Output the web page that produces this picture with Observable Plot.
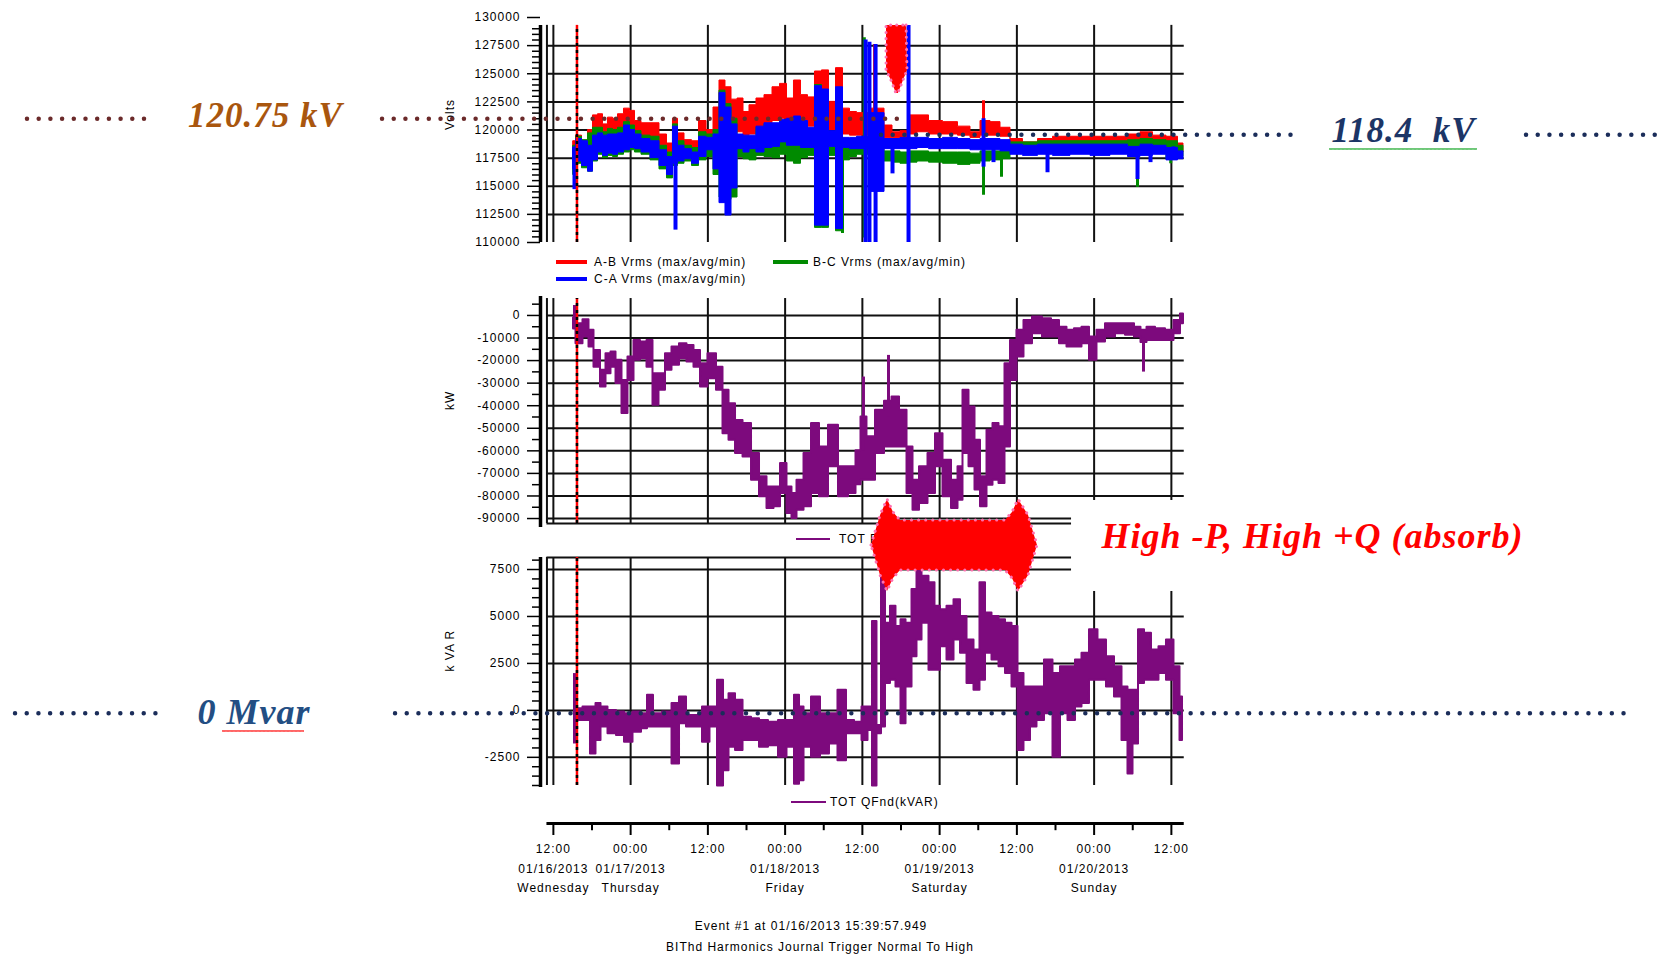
<!DOCTYPE html>
<html>
<head>
<meta charset="utf-8">
<script src="https://cdn.jsdelivr.net/npm/d3@7"></script>
<script src="https://cdn.jsdelivr.net/npm/@observablehq/plot@0.6"></script>
<style>
  body { margin: 0; background: #fff; }
  #chart { position: relative; width: 1665px; height: 956px; overflow: hidden; background: #fff;
           font-family: "Liberation Sans", Arial, sans-serif; }
  #chart > svg { position: absolute; left: 0; top: 0; }
  .lg { position: absolute; font-size: 12px; letter-spacing: 1px; line-height: 14px; color: #000; white-space: pre; }
  .sw { position: absolute; }
  .cap { position: absolute; font-size: 12px; letter-spacing: 1px; line-height: 14px; text-align: center; white-space: pre; }
  .wavy { position: absolute; height: 4px; background-repeat: repeat-x; }
  g[aria-label^="anno"] text { letter-spacing: 0; }
</style>
</head>
<body>
<div id="chart"></div>
<script>
// ---------------- DATA (hours counted from 01/16/2013 00:00) ----------------
const T0 = Date.UTC(2013, 0, 16);
const t = h => new Date(T0 + h * 3600e3);

// time axis
const majorTickHours = [12, 24, 36, 48, 60, 72, 84, 96, 108];
const majorTickTime  = ["12:00", "00:00", "12:00", "00:00", "12:00", "00:00", "12:00", "00:00", "12:00"];
const majorTickDate  = ["01/16/2013", "01/17/2013", "", "01/18/2013", "", "01/19/2013", "", "01/20/2013", ""];
const majorTickDay   = ["Wednesday", "Thursday", "", "Friday", "", "Saturday", "", "Sunday", ""];
const minorTickHours = [18, 30, 42, 54, 66, 78, 90, 102];
const eventHour = 15 + 39 / 60 + 58 / 3600;       // Event #1 at 15:39:57.949
const axisStartHour = 10, frameStartHour = 11, frameEndHour = 110;

// Volts panel: [hour, min kV, max kV]
const voltsAB = [[15.13,118.0,119.0],[15.90,118.5,119.5],[16.99,118.3,119.0],[17.77,118.8,120.0],[18.54,119.5,121.3],[19.32,119.6,121.4],[20.10,119.3,120.5],[20.87,119.5,121.1],[21.65,119.4,121.0],[22.43,119.6,121.4],[23.51,120.2,121.9],[24.29,120.0,121.7],[25.07,119.5,120.8],[26.31,119.2,120.6],[27.86,119.0,120.6],[29.11,118.2,119.6],[30.19,117.6,118.8],[30.97,119.0,121.0],[31.75,118.5,119.7],[32.99,118.2,119.1],[34.08,118.0,119.0],[35.17,119.2,120.8],[36.41,119.2,120.0],[37.34,119.5,122.0],[38.27,122.0,124.4],[39.20,121.5,123.8],[40.14,120.5,122.7],[41.07,119.8,122.8],[42.00,119.5,121.6],[42.93,119.6,122.2],[44.17,120.2,122.8],[45.42,120.6,123.1],[46.66,120.8,123.8],[47.75,121.0,124.1],[48.83,120.8,122.8],[49.92,121.0,124.4],[51.01,120.8,123.1],[52.10,120.3,122.9],[53.18,122.5,125.2],[54.27,122.5,125.3],[55.36,120.0,122.5],[56.45,122.5,125.5],[57.53,119.6,121.9],[58.62,119.5,121.6],[59.71,119.5,121.5],[62.82,119.8,121.9],[64.06,119.3,120.4],[65.30,119.3,119.8],[66.54,119.3,119.9],[67.79,119.6,121.3],[69.34,119.8,121.3],[71.36,119.6,120.8],[73.69,119.6,120.7],[76.02,119.5,120.3],[77.57,119.3,119.8],[79.13,119.5,120.8],[80.68,119.5,120.7],[82.23,119.4,120.2],[83.79,118.6,119.2],[86.12,118.5,118.9],[88.45,118.6,119.2],[90.78,118.7,119.4],[93.88,118.7,119.4],[96.99,118.7,119.4],[100.10,118.7,119.4],[102.43,118.8,119.6],[103.98,118.9,119.8],[106.31,118.8,119.5],[108.17,118.6,119.4],[109.88,118.0,118.8]];
const voltsBC = [[15.13,116.0,118.6],[15.90,117.0,119.4],[16.99,116.6,119.1],[17.77,116.3,119.7],[18.54,117.2,120.2],[19.32,117.8,120.2],[20.10,117.5,119.8],[20.87,117.7,120.1],[21.65,117.6,120.0],[22.43,117.8,120.2],[23.51,118.0,120.7],[24.29,118.2,120.4],[25.07,118.0,119.9],[26.31,117.8,119.5],[27.86,117.3,119.4],[29.11,116.5,118.6],[30.19,115.7,118.0],[30.97,116.8,120.5],[31.75,117.0,119.0],[32.99,117.2,118.6],[34.08,116.8,118.4],[35.17,117.3,119.8],[36.41,117.6,119.6],[37.34,116.0,120.0],[38.27,114.0,123.5],[39.20,113.8,122.3],[40.14,114.0,121.0],[41.07,117.6,119.5],[42.00,117.4,119.4],[42.93,117.3,119.4],[44.17,117.7,120.2],[45.42,117.6,120.5],[46.66,117.5,120.5],[47.75,117.8,120.8],[48.83,117.2,120.9],[49.92,117.0,121.1],[51.01,117.5,120.7],[52.10,117.7,120.1],[53.18,111.3,124.0],[54.27,111.3,123.5],[55.36,117.7,119.8],[56.45,111.0,123.5],[57.53,117.3,119.2],[58.62,117.6,119.2],[59.71,117.8,119.3],[62.82,117.5,119.2],[64.06,117.2,118.1],[65.30,117.1,118.1],[66.54,117.0,118.0],[67.79,117.1,118.1],[69.34,117.2,118.1],[71.36,117.1,118.0],[73.69,117.0,118.0],[76.02,116.9,118.0],[77.57,117.0,117.9],[79.13,117.2,118.1],[80.68,117.3,118.1],[82.23,117.4,118.1],[83.79,117.9,118.9],[86.12,117.9,118.9],[88.45,118.0,119.0],[90.78,118.0,119.0],[93.88,118.0,119.0],[96.99,118.0,119.0],[100.10,118.0,119.0],[102.43,117.8,119.1],[103.98,118.0,119.2],[106.31,118.0,119.1],[108.17,117.5,119.0],[109.88,117.6,118.6]];
const voltsCA = [[15.13,116.5,118.4],[15.90,117.2,119.2],[16.99,116.8,119.0],[17.77,116.3,118.6],[18.54,117.3,119.5],[19.32,118.0,119.7],[20.10,117.7,119.5],[20.87,117.9,119.6],[21.65,117.8,119.6],[22.43,118.0,119.7],[23.51,118.2,120.4],[24.29,118.4,120.0],[25.07,118.3,119.6],[26.31,118.0,119.2],[27.86,117.5,119.0],[29.11,116.8,118.2],[30.19,116.0,117.6],[30.97,117.0,120.3],[31.75,117.2,118.6],[32.99,117.4,118.3],[34.08,117.0,118.0],[35.17,117.6,119.4],[36.41,118.2,119.3],[37.34,116.5,119.6],[38.27,113.5,123.3],[39.20,112.4,122.0],[40.14,114.8,120.5],[41.07,118.3,119.6],[42.00,118.0,119.5],[42.93,118.3,119.5],[44.17,118.0,120.3],[45.42,118.4,120.6],[46.66,118.5,120.6],[47.75,118.9,120.9],[48.83,118.6,121.0],[49.92,118.6,121.2],[51.01,118.4,120.8],[52.10,118.4,120.2],[53.18,111.5,123.9],[54.27,111.5,123.6],[55.36,118.5,119.9],[56.45,111.2,123.8],[57.53,118.4,119.3],[58.62,118.3,119.3],[59.71,118.3,119.4],[62.82,114.5,121.5],[64.06,118.3,119.2],[65.30,118.3,119.2],[66.54,118.3,119.3],[67.79,118.3,119.3],[69.34,118.4,119.3],[71.36,118.3,119.2],[73.69,118.3,119.3],[76.02,118.3,119.2],[77.57,118.2,119.1],[79.13,118.2,119.2],[80.68,118.2,119.2],[82.23,118.1,119.1],[83.79,117.8,118.7],[86.12,117.7,118.6],[88.45,117.8,118.7],[90.78,117.7,118.7],[93.88,117.8,118.7],[96.99,117.7,118.7],[100.10,117.8,118.7],[102.43,117.6,118.5],[103.98,117.7,118.7],[106.31,117.8,118.6],[108.17,117.3,118.4],[109.88,117.4,118.1]];
// short excursions: [phase, hour, min kV, max kV]
const voltSpikes = [["CA",15.28,114.7,118.5],["CA",30.97,111.1,119.5],["BC",56.91,110.8,118.0],["BC",60.30,110.4,128.2],["CA",60.50,110.0,128.0],["CA",61.10,110.0,127.8],["AB",61.90,119.0,127.6],["CA",62.05,110.0,127.6],["CA",64.68,116.1,119.0],["CA",67.17,110.0,129.3],["AB",78.82,119.5,122.6],["BC",78.82,114.2,118.0],["CA",78.82,116.7,121.0],["CA",80.37,117.1,118.8],["BC",81.61,115.8,118.0],["CA",88.76,116.2,118.5],["BC",102.74,114.9,118.5],["CA",102.74,115.6,118.4],["CA",104.76,117.1,118.5],["BC",107.90,117.0,118.5],["CA",108.33,117.3,118.5]];

// kW panel: [hour, min, max] in thousands of kW
const kwTOT = [[15.13,-6,-1],[15.90,-12.5,-3.7],[17.30,-9.6,-1.9],[17.77,-14.0,-6.6],[18.85,-22.9,-15.5],[19.79,-31.7,-24.3],[20.56,-25.8,-17.0],[21.34,-22.9,-16.2],[22.12,-30.2,-19.9],[23.20,-43.5,-28.8],[23.98,-28.8,-18.4],[25.07,-19.9,-11.1],[26.00,-19.2,-11.8],[27.09,-22.9,-11.1],[27.86,-39.8,-25.8],[28.95,-33.2,-25.8],[29.88,-24.3,-17.0],[30.97,-22.1,-14.0],[32.21,-19.2,-12.5],[33.30,-20.6,-13.3],[34.39,-22.9,-15.5],[35.32,-31.7,-21.4],[36.72,-28.0,-17.0],[37.96,-33.2,-22.9],[38.74,-52.4,-33.2],[39.83,-55.3,-39.1],[40.76,-61.2,-46.5],[42.16,-62.7,-47.9],[43.40,-73.0,-61.2],[44.64,-80.4,-71.5],[45.73,-85.5,-76.0],[46.82,-84.8,-76.0],[47.75,-78.9,-65.6],[48.83,-87.8,-76.0],[49.30,-90.0,-78.9],[50.39,-86.3,-73.0],[51.48,-84.8,-61.2],[52.72,-78.9,-47.9],[53.96,-80.4,-58.3],[55.51,-67.1,-48.7],[57.07,-80.4,-67.1],[58.62,-78.9,-67.1],[59.40,-75.0,-60.0],[60.17,-73.0,-45.0],[61.26,-73.0,-53.8],[62.82,-61.2,-42.0],[64.06,-58.3,-38.0],[65.15,-58.3,-36.1],[66.39,-58.3,-42.0],[67.48,-78.9,-58.3],[68.25,-86.3,-73.0],[69.50,-83.3,-67.1],[70.89,-78.9,-61.2],[71.83,-67.1,-52.4],[73.22,-80.4,-64.2],[74.47,-85.5,-73.0],[75.24,-81.9,-67.1],[76.02,-61.2,-33.2],[77.11,-67.1,-40.6],[77.88,-77.4,-55.3],[78.82,-84.8,-71.5],[79.90,-75.2,-50.9],[80.68,-73.0,-47.9],[81.77,-74.5,-49.3],[82.54,-58.3,-21.4],[83.48,-28.8,-11.1],[84.56,-18.4,-6.6],[85.65,-12.5,-2.2],[87.20,-8.1,-0.7],[88.76,-9.6,-1.5],[90.00,-9.6,-2.2],[91.24,-12.5,-5.2],[92.33,-14.0,-6.6],[93.57,-14.0,-5.9],[94.66,-12.5,-5.2],[95.90,-19.9,-9.6],[96.99,-11.8,-6.6],[98.54,-9.6,-3.7],[100.10,-8.1,-3.7],[101.65,-8.8,-3.7],[102.89,-9.6,-5.2],[103.67,-12.0,-6.6],[104.76,-11.1,-5.2],[106.31,-11.1,-5.9],[107.86,-11.1,-6.6],[108.95,-8.1,-2.2],[109.88,-3.7,0.7]];
const kwSpikes = [[15.28,-6,4.4],[60.17,-60,-27.3],[64.06,-45,-17.7],[103.67,-25.1,-10]];

// kVAR panel: [hour, min, max]
const kvarTOT = [[15.90,-540,90],[17.30,-540,180],[18.23,-2320,180],[19.01,-1610,360],[19.79,-890,180],[21.18,-1250,0],[22.43,-1340,-90],[23.67,-1700,-180],[25.07,-1160,-90],[26.31,-980,-180],[26.93,-890,800],[28.17,-890,-180],[29.73,-890,-90],[31.13,-2860,360],[32.06,-710,710],[33.30,-890,-270],[34.54,-890,-270],[35.79,-1700,180],[36.87,-890,180],[38.12,-4020,1610],[38.74,-3210,540],[39.83,-1960,890],[40.76,-2140,540],[42.16,-1610,-360],[43.40,-1610,-450],[44.64,-1960,-540],[46.19,-1880,-630],[47.75,-2500,-540],[48.83,-1960,-540],[50.08,-3930,800],[50.39,-3750,180],[51.48,-1960,-180],[52.72,-2500,710],[54.27,-2320,-180],[55.51,-1790,-180],[56.91,-2680,1070],[58.16,-1250,-540],[59.40,-1250,-630],[60.49,-1610,180],[61.26,-1070,180],[61.88,-4020,4730],[62.66,-1250,-800],[63.28,-890,8040],[63.90,1430,4640],[64.83,1610,5540],[65.61,1250,4460],[66.39,-710,4820],[67.17,1250,4640],[68.25,2860,6430],[68.72,3750,7410],[69.81,4640,7140],[70.89,2140,6790],[71.67,2140,5540],[72.60,3390,5360],[73.69,2680,5540],[74.78,3750,5890],[75.71,3040,5000],[76.80,1430,3750],[77.88,1070,3210],[78.66,1610,6790],[79.59,3040,5180],[80.68,2680,5000],[81.77,2320,4820],[82.70,1960,4640],[83.79,1250,4460],[84.56,-2140,1960],[85.65,-1610,1250],[86.58,-890,1250],[87.67,-540,1250],[88.91,-180,2680],[90.31,-2500,1960],[91.24,-180,2320],[92.64,-540,2320],[93.57,180,2680],[94.66,360,3040],[95.90,1610,4290],[97.30,1610,3750],[98.54,1250,2860],[99.79,710,2320],[100.87,-1610,1250],[101.65,-3390,1070],[102.43,-1790,1070],[103.36,1430,4290],[104.29,1610,4110],[105.53,1610,3210],[106.62,1960,3390],[107.86,1610,3750],[108.95,-180,2320],[109.73,-1610,710]];
const kvarSpikes = [[15.28,-1790,1960]];

// axis ticks
const voltMajor = [110000,112500,115000,117500,120000,122500,125000,127500,130000];
const voltMinor = d3.range(110500, 129001, 500).filter(v => v % 2500 !== 0);
const kwMajor = [0,-10000,-20000,-30000,-40000,-50000,-60000,-70000,-80000,-90000];
const kwMinor = [5000,-5000,-15000,-25000,-35000,-45000,-55000,-65000,-75000,-85000];
const kvarMajor = [7500,5000,2500,0,-2500];
const kvarMinor = d3.range(-4000, 8001, 500).filter(v => v % 2500 !== 0);

// annotations (hours / values)
const voltRefSegments = [
  {h1:-69.69, h2:-50.74, v:121000, color:"#6b2a2a"},
  {h1:-14.54, h2:67.01,  v:121000, color:"#6b2a2a"},
  {h1:62.97,  h2:127.75, v:119570, color:"#1b2d5a"},
  {h1:163.17, h2:183.5,  v:119570, color:"#1b2d5a"}
];
const kvarRefSegments = [{h1:-71.55, h2:-49.18, v:-150}, {h1:-12.52, h2:179.32, v:-150}];
const downArrow = [[129289,63.75,66.86],[125289,63.75,67.01],[124400,64.51,66.39],[123244,65.28,65.59]];
const doubleArrow = [[61.42,8780,8780],[62.82,7183,10377],[63.90,6331,11230],[64.83,7023,10537],[65.92,7449,10111],[82.23,7449,10111],[83.32,7023,10537],[84.25,6331,11230],[85.81,7183,10377],[87.20,8780,8780]];
const noteBox = {h1:92.49, h2:168.45, lo:6331, hi:11176};

// ---------------- DRAWING ----------------
const FONT = "'Liberation Sans', Arial, sans-serif";
const SERIF = "'Liberation Serif', 'Times New Roman', serif";
const chart = document.getElementById("chart");
const gridHours = [frameStartHour, ...majorTickHours];
const style = {background: "transparent", overflow: "visible", fontFamily: FONT, fontSize: "12px", letterSpacing: "1px", color: "#000"};
const base = {width: 1665, height: 956, marginLeft: 540, marginRight: 481.25,
  x: {type: "utc", domain: [t(axisStartHour), t(frameEndHour)], axis: null}, style};

const bandRows = (arr, k) => arr.map(([h, lo, hi]) => ({date: t(h), lo: lo * k, hi: hi * k}));

function scaffold({hGrid, vLo, vHi, axLo, axHi, major, minor, title}) {
  return [
    Plot.ruleY(hGrid, {x1: t(frameStartHour), x2: t(frameEndHour), stroke: "#111", strokeWidth: 2}),
    Plot.ruleX(gridHours, {x: t, y1: vLo, y2: vHi, stroke: "#111", strokeWidth: 2}),
    Plot.ruleX([axisStartHour], {x: t, y1: axLo, y2: axHi, stroke: "#000", strokeWidth: 3.5}),
    Plot.axisY(minor, {tickSize: 8, tickFormat: () => "", label: null, strokeWidth: 1.5}),
    Plot.axisY(major, {tickSize: 13, tickPadding: 7, tickFormat: d => String(d), label: null, strokeWidth: 1.5}),
    Plot.text([title], {frameAnchor: "left", dx: -90, rotate: -90, text: d => d, fontSize: 12})
  ];
}
function eventLine(lo, hi) {
  return [
    Plot.ruleX([eventHour], {x: t, y1: lo, y2: hi, stroke: "#ff0000", strokeWidth: 2.5}),
    Plot.ruleX([eventHour], {x: t, y1: lo, y2: hi, stroke: "#000", strokeWidth: 2.5, strokeDasharray: "3,4"})
  ];
}
function band(arr, k, color, sw = 1) {
  return Plot.areaY(bandRows(arr, k), {x: "date", y1: "lo", y2: "hi", fill: color, stroke: color, strokeWidth: sw, curve: "step"});
}
function spikes(arr, k, color, w = 3) {
  return Plot.ruleX(arr, {x: d => t(d[0]), y1: d => d[1] * k, y2: d => d[2] * k, stroke: color, strokeWidth: w});
}
const phaseSpikes = ph => voltSpikes.filter(d => d[0] === ph).map(d => d.slice(1));
const dotted = {strokeWidth: 4.5, strokeDasharray: "0 11.7", strokeLinecap: "round"};
const annoText = {fontFamily: SERIF, fontStyle: "italic", fontWeight: "bold"};

function div(cls, css, text) {
  const e = document.createElement("div");
  e.className = cls; Object.assign(e.style, css);
  if (text) e.textContent = text;
  chart.appendChild(e);
}
function legendItem(x, y, w, h, color, tx, label) {
  div("sw", {left: x + "px", top: (y - h / 2) + "px", width: w + "px", height: h + "px", background: color});
  div("lg", {left: tx + "px", top: (y - 7) + "px"}, label);
}
// spell-check style wavy underline (decoration only)
function wavy(x, y, w, color) {
  const svg = `<svg xmlns='http://www.w3.org/2000/svg' width='4' height='4'><path d='M0 3 L1 1 L2 3 L3 1 L4 3' fill='none' stroke='${color}' stroke-width='0.9'/></svg>`;
  div("wavy", {left: x + "px", top: y + "px", width: w + "px",
    backgroundImage: `url("data:image/svg+xml,${encodeURIComponent(svg)}")`});
}

// ---- Panel 1: Volts
chart.appendChild(Plot.plot({
  ...base, marginTop: 17, marginBottom: 714,
  y: {domain: [110000, 130000], axis: null},
  marks: [
    ...scaffold({hGrid: [112500,115000,117500,120000,122500,125000,127500], vLo: 110000, vHi: 129300,
      axLo: 110000, axHi: 129300, major: voltMajor, minor: voltMinor, title: "Volts"}),
    band(voltsAB, 1000, "#ff0000"), spikes(phaseSpikes("AB"), 1000, "#ff0000"),
    band(voltsBC, 1000, "#008a00"), spikes(phaseSpikes("BC"), 1000, "#008a00"),
    band(voltsCA, 1000, "#0000ff"), spikes(phaseSpikes("CA"), 1000, "#0000ff", 4),
    ...eventLine(110000, 129300),
    Plot.ruleY(voltRefSegments, {y: "v", x1: d => t(d.h1), x2: d => t(d.h2), stroke: "color", ...dotted}),
    Plot.areaX(downArrow, {y: d => d[0], x1: d => t(d[1]), x2: d => t(d[2]), fill: "#ff0000",
      stroke: "#ff70b0", strokeWidth: 3, strokeDasharray: "0.1 6", strokeLinecap: "round"}),
    Plot.text([{h: -32.72, v: 121300}], {x: d => t(d.h), y: "v", text: () => "120.75 kV", fill: "#a9560e", fontSize: 35, ...annoText, ariaLabel: "anno"}),
    Plot.text([{h: 144.06, v: 119900}], {x: d => t(d.h), y: "v", text: () => "118.4  kV", fill: "#1c3566", fontSize: 35, ...annoText, ariaLabel: "anno"})
  ]
}));
wavy(1329, 147, 148, "#3cb44a");
legendItem(556, 262, 31, 4, "#ff0000", 594, "A-B Vrms (max/avg/min)");
legendItem(773, 262, 35, 4, "#008a00", 813, "B-C Vrms (max/avg/min)");
legendItem(556, 279, 31, 4, "#0000ff", 594, "C-A Vrms (max/avg/min)");

// ---- Panel 2: kW
chart.appendChild(Plot.plot({
  ...base, marginTop: 296, marginBottom: 433,
  y: {domain: [-92200, 8400], axis: null},
  marks: [
    ...scaffold({hGrid: [...kwMajor, -92200], vLo: -92200, vHi: 7500, axLo: -94000, axHi: 8400,
      major: kwMajor, minor: kwMinor, title: "kW"}),
    band(kwTOT, 1000, "#7d0a7d", 2), spikes(kwSpikes, 1000, "#7d0a7d", 3),
    ...eventLine(-92200, 7500)
  ]
}));
legendItem(796, 539, 34, 2.5, "#7d0a7d", 839, "TOT PFnd(kW)");

// ---- Panel 3: kVAR
chart.appendChild(Plot.plot({
  ...base, marginTop: 557, marginBottom: 171,
  y: {domain: [-4000, 8140], axis: null},
  marks: [
    ...scaffold({hGrid: [8140, ...kvarMajor], vLo: -4000, vHi: 8140, axLo: -4100, axHi: 8140,
      major: kvarMajor, minor: kvarMinor, title: "k VA R"}),
    band(kvarTOT, 1, "#7d0a7d", 2), spikes(kvarSpikes, 1, "#7d0a7d", 3),
    ...eventLine(-4000, 8140),
    Plot.ruleY(kvarRefSegments, {y: "v", x1: d => t(d.h1), x2: d => t(d.h2), stroke: "#1b2d5a", ...dotted}),
    Plot.rect([noteBox], {x1: d => t(d.h1), x2: d => t(d.h2), y1: "lo", y2: "hi", fill: "#fff"}),
    Plot.areaY(doubleArrow, {x: d => t(d[0]), y1: d => d[1], y2: d => d[2], fill: "#ff0000",
      stroke: "#ff70b0", strokeWidth: 3, strokeDasharray: "0.1 7", strokeLinecap: "round"}),
    Plot.text([{h: 97.15, v: 9243}], {x: d => t(d.h), y: "v", text: () => "High -P, High +Q (absorb)", textAnchor: "start",
      fill: "#ff0000", fontSize: 36, ...annoText, ariaLabel: "anno"}),
    Plot.text([{h: -43.28, v: -100}], {x: d => t(d.h), y: "v", text: () => "0 Mvar", textAnchor: "start",
      fill: "#234e83", fontSize: 36, ...annoText, ariaLabel: "anno"})
  ]
}));
wavy(222, 729, 82, "#ff3030");
legendItem(791, 802, 35, 2, "#7d0a7d", 830, "TOT QFnd(kVAR)");

// ---- Panel 4: time axis
const xLabels = majorTickHours.map((h, i) => ({date: t(h),
  label: [majorTickTime[i], majorTickDate[i], majorTickDay[i]].filter(s => s).join("\n")}));
chart.appendChild(Plot.plot({
  ...base, marginTop: 823, marginBottom: 121,
  y: {domain: [0, 1], axis: null},
  marks: [
    Plot.ruleY([1], {x1: t(frameStartHour), x2: t(frameEndHour), stroke: "#000", strokeWidth: 3}),
    Plot.ruleX(majorTickHours, {x: t, y1: 1, y2: 0, stroke: "#000", strokeWidth: 2}),
    Plot.ruleX(minorTickHours, {x: t, y1: 1, y2: 0.4, stroke: "#000", strokeWidth: 2}),
    Plot.text(xLabels, {x: "date", y: 0, text: "label", lineAnchor: "top", lineHeight: 1.62, dy: 4, fontSize: 12})
  ]
}));
div("cap", {left: "611px", top: "919px", width: "400px"}, "Event #1 at 01/16/2013 15:39:57.949");
div("cap", {left: "570px", top: "940px", width: "500px"}, "BIThd Harmonics Journal Trigger Normal To High");
</script>
</body>
</html>
